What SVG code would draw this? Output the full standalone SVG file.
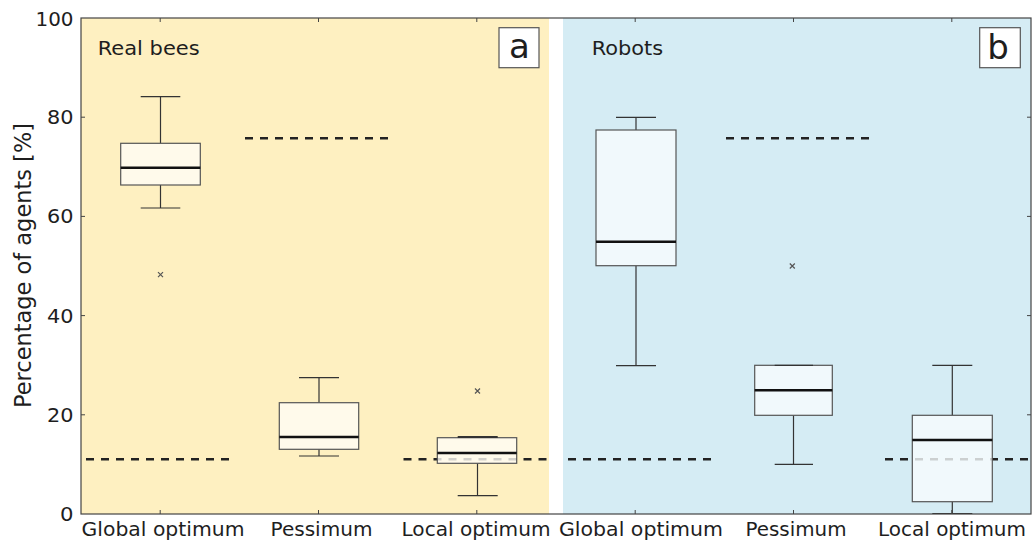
<svg xmlns="http://www.w3.org/2000/svg" width="1033" height="543" viewBox="0 0 1033 543">
<style>
text{font-family:"DejaVu Sans","Liberation Sans",sans-serif;fill:#1e1e1e}
.lbl{font-size:19.3px}
.box{stroke:#555;stroke-width:1.2}
.ba{fill:#fffdf5;fill-opacity:0.8}
.bb{fill:#f7fcfe;fill-opacity:0.8}
.wh{stroke:#333;stroke-width:1.2;fill:none}
.med{stroke:#111;stroke-width:2.6}
.dash{stroke:#222;stroke-width:2.6;stroke-dasharray:8 7;fill:none}
.tick{stroke:#444;stroke-width:1}
.out{stroke:#555;stroke-width:1.2}
.tag{fill:#fff;stroke:#555;stroke-width:1.2}
</style>
<rect width="1033" height="543" fill="#fff"/>
<rect id="panel-a-bg" x="81" y="18" width="468" height="496" fill="#fef0c1"/>
<rect id="panel-b-bg" x="563" y="18" width="468" height="496" fill="#d5ecf4"/>

<g id="reference-lines">
<line class="dash" x1="86" y1="459.3" x2="233" y2="459.3"/>
<line class="dash" x1="245" y1="138.3" x2="392" y2="138.3"/>
<line class="dash" x1="403.5" y1="459.3" x2="550" y2="459.3"/>
<line class="dash" x1="568" y1="459.3" x2="715" y2="459.3"/>
<line class="dash" x1="726" y1="138.3" x2="873" y2="138.3"/>
<line class="dash" x1="885" y1="459.3" x2="1031" y2="459.3"/>
</g>

<g id="bees-global">
<line class="wh" x1="160.5" y1="96.7" x2="160.5" y2="143.3"/>
<line class="wh" x1="160.5" y1="185" x2="160.5" y2="208"/>
<line class="wh" x1="140.7" y1="96.7" x2="180.3" y2="96.7"/>
<line class="wh" x1="140.7" y1="208" x2="180.3" y2="208"/>
<rect class="box ba" x="120.7" y="143.3" width="79.6" height="41.7"/>
<line class="med" x1="120.7" y1="167.7" x2="200.3" y2="167.7"/>
<path class="out" d="M158 272.2l5 5M163 272.2l-5 5"/>
</g>

<g id="bees-pessimum">
<line class="wh" x1="319" y1="377.7" x2="319" y2="402.7"/>
<line class="wh" x1="319" y1="449.3" x2="319" y2="456"/>
<line class="wh" x1="299" y1="377.7" x2="339" y2="377.7"/>
<line class="wh" x1="299" y1="456" x2="339" y2="456"/>
<rect class="box ba" x="279.3" y="402.7" width="79.4" height="46.6"/>
<line class="med" x1="279.3" y1="437" x2="358.7" y2="437"/>
</g>

<g id="bees-local">
<line class="wh" x1="477.5" y1="463.3" x2="477.5" y2="495.7"/>
<line class="wh" x1="457.7" y1="495.7" x2="497.7" y2="495.7"/>
<rect class="box ba" x="437.3" y="437.7" width="79.4" height="25.6"/>
<line class="wh" x1="457.7" y1="436.9" x2="497.7" y2="436.9" style="stroke-width:2"/>
<line class="med" x1="437.3" y1="453" x2="516.7" y2="453"/>
<path class="out" d="M475 388.5l5 5M480 388.5l-5 5"/>
</g>

<g id="robots-global">
<line class="wh" x1="636" y1="117.3" x2="636" y2="130"/>
<line class="wh" x1="636" y1="265.7" x2="636" y2="365.7"/>
<line class="wh" x1="616" y1="117.3" x2="656" y2="117.3"/>
<line class="wh" x1="616" y1="365.7" x2="656" y2="365.7"/>
<rect class="box bb" x="596" y="130" width="80" height="135.7"/>
<line class="med" x1="596" y1="241.7" x2="676" y2="241.7"/>
</g>

<g id="robots-pessimum">
<line class="wh" x1="793.5" y1="415.3" x2="793.5" y2="464.3"/>
<line class="wh" x1="774.7" y1="464.3" x2="813" y2="464.3"/>
<rect class="box bb" x="754.7" y="365.3" width="77.6" height="50"/>
<line class="wh" x1="774.7" y1="365.3" x2="813" y2="365.3"/>
<line class="med" x1="754.7" y1="390.3" x2="832.3" y2="390.3"/>
<path class="out" d="M789.8 263.5l5 5M794.8 263.5l-5 5"/>
</g>

<g id="robots-local">
<line class="wh" x1="952.3" y1="365.3" x2="952.3" y2="415.3"/>
<line class="wh" x1="952.3" y1="501.7" x2="952.3" y2="514"/>
<line class="wh" x1="932.3" y1="365.3" x2="972.3" y2="365.3"/>
<line class="wh" x1="932.3" y1="513.5" x2="972.3" y2="513.5"/>
<rect class="box bb" x="912.3" y="415.3" width="80" height="86.4"/>
<line class="med" x1="912.3" y1="440" x2="992.3" y2="440"/>
</g>

<g id="axes">
<rect x="81" y="18" width="950" height="496" fill="none" stroke="#444" stroke-width="1.2"/>
<path class="tick" d="M160.2 18v4M318.5 18v4M476.8 18v4M635.2 18v4M793.5 18v4M951.8 18v4M160.2 514v-4M318.5 514v-4M476.8 514v-4M635.2 514v-4M793.5 514v-4M951.8 514v-4M81 117.2h4M81 216.4h4M81 315.6h4M81 414.8h4M1031 117.2h-4M1031 216.4h-4M1031 315.6h-4M1031 414.8h-4"/>
</g>

<g id="y-ticks" class="lbl" text-anchor="end">
<text x="73.5" y="25.8" textLength="38" lengthAdjust="spacingAndGlyphs">100</text>
<text x="73.5" y="124.3" textLength="26.5" lengthAdjust="spacingAndGlyphs">80</text>
<text x="73.5" y="223.3" textLength="26.5" lengthAdjust="spacingAndGlyphs">60</text>
<text x="73.5" y="322.6" textLength="26.5" lengthAdjust="spacingAndGlyphs">40</text>
<text x="73.5" y="421.6" textLength="26.5" lengthAdjust="spacingAndGlyphs">20</text>
<text x="73.5" y="521" textLength="13.5" lengthAdjust="spacingAndGlyphs">0</text>
</g>

<g id="x-labels" class="lbl" text-anchor="middle">
<text x="163" y="536.3" textLength="163" lengthAdjust="spacingAndGlyphs">Global optimum</text>
<text x="321.5" y="536.3" textLength="102" lengthAdjust="spacingAndGlyphs">Pessimum</text>
<text x="476" y="536.3" textLength="149" lengthAdjust="spacingAndGlyphs">Local optimum</text>
<text x="641" y="536.3" textLength="164" lengthAdjust="spacingAndGlyphs">Global optimum</text>
<text x="796" y="536.3" textLength="101" lengthAdjust="spacingAndGlyphs">Pessimum</text>
<text x="952" y="536.3" textLength="148" lengthAdjust="spacingAndGlyphs">Local optimum</text>
</g>

<text id="y-label" transform="translate(30.5 265.5) rotate(-90)" text-anchor="middle" style="font-size:22.5px" textLength="285" lengthAdjust="spacingAndGlyphs">Percentage of agents [%]</text>

<g id="title-a">
<text class="lbl" x="97.7" y="55.3" textLength="102" lengthAdjust="spacingAndGlyphs">Real bees</text>
</g>
<g id="title-b">
<text class="lbl" x="591.7" y="55.3" textLength="71.5" lengthAdjust="spacingAndGlyphs">Robots</text>
</g>

<g id="tag-a">
<rect class="tag" x="499" y="27.7" width="40" height="40"/>
<text x="519.5" y="57.5" text-anchor="middle" style="font-size:34px">a</text>
</g>
<g id="tag-b">
<rect class="tag" x="979.7" y="27.7" width="40.6" height="40"/>
<text x="998" y="58.5" text-anchor="middle" style="font-size:34px">b</text>
</g>
</svg>
